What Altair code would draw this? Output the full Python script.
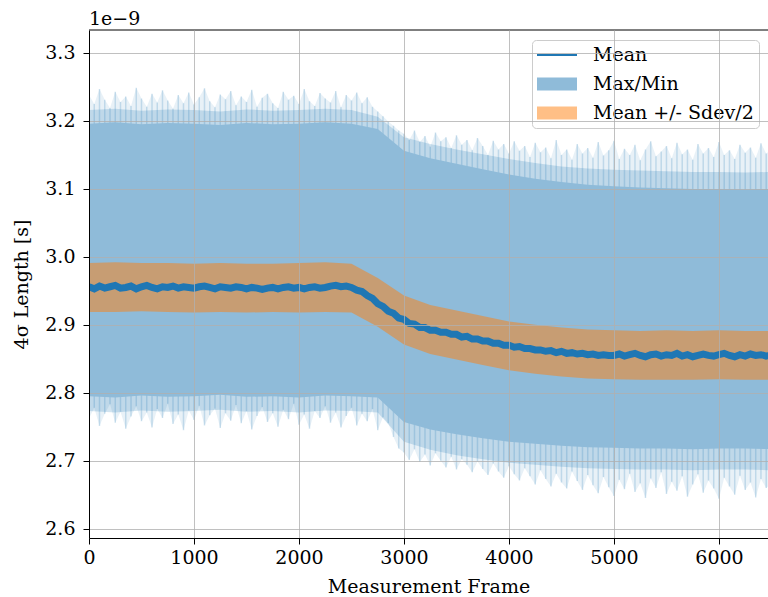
import altair as alt
import pandas as pd

FONT = "DejaVu Serif"

# sampled frame numbers (every 50 frames) for the noisy series
frames = list(range(0, 6501, 50))
# mean of the 4-sigma length, in units of 1e-9 s
mean = [
    2.956, 2.953, 2.957, 2.954, 2.956, 2.958, 2.954, 2.955, 2.957, 2.953,
    2.956, 2.958, 2.955, 2.953, 2.956, 2.955, 2.957, 2.954, 2.956, 2.955,
    2.954, 2.956, 2.957, 2.955, 2.953, 2.956, 2.955, 2.954, 2.956, 2.955,
    2.953, 2.955, 2.954, 2.952, 2.954, 2.955, 2.953, 2.955, 2.956, 2.954,
    2.955, 2.953, 2.955, 2.956, 2.954, 2.955, 2.957, 2.958, 2.956, 2.957,
    2.955, 2.951, 2.949, 2.943, 2.939, 2.931, 2.927, 2.920, 2.917, 2.910,
    2.908, 2.902, 2.901, 2.896, 2.896, 2.892, 2.892, 2.889, 2.889, 2.886,
    2.886, 2.882, 2.883, 2.879, 2.879, 2.876, 2.876, 2.873, 2.873, 2.870,
    2.870, 2.867, 2.868, 2.865, 2.865, 2.863, 2.863, 2.861, 2.862, 2.859,
    2.861, 2.858, 2.859, 2.857, 2.858, 2.856, 2.857, 2.855, 2.856, 2.855,
    2.855, 2.857, 2.854, 2.856, 2.858, 2.855, 2.853, 2.856, 2.857, 2.854,
    2.856, 2.855, 2.858, 2.854, 2.856, 2.853, 2.855, 2.857, 2.855, 2.854,
    2.856, 2.858, 2.855, 2.853, 2.856, 2.854, 2.857, 2.855, 2.856, 2.854,
    2.855,
]
# spiky extremes of the max / min envelope
max_peak = [
    3.238, 3.225, 3.247, 3.231, 3.219, 3.243, 3.228, 3.236, 3.222, 3.249,
    3.233, 3.221, 3.240, 3.227, 3.245, 3.230, 3.218, 3.238, 3.226, 3.242,
    3.224, 3.235, 3.248, 3.229, 3.220, 3.239, 3.232, 3.244, 3.223, 3.236,
    3.228, 3.246, 3.221, 3.234, 3.240, 3.226, 3.219, 3.243, 3.231, 3.237,
    3.225, 3.247, 3.229, 3.222, 3.241, 3.233, 3.227, 3.244, 3.220, 3.238,
    3.230, 3.242, 3.226, 3.235, 3.221,
    3.214, 3.207, 3.199, 3.193, 3.186,
    3.181, 3.172, 3.186, 3.169, 3.178, 3.162, 3.183, 3.170, 3.176, 3.160,
    3.179, 3.165, 3.172, 3.157, 3.175, 3.163, 3.150, 3.171, 3.158, 3.166,
    3.152, 3.170, 3.156, 3.163, 3.147, 3.168, 3.154, 3.161, 3.145, 3.172,
    3.150, 3.158, 3.143, 3.166, 3.152, 3.160, 3.146, 3.169, 3.149, 3.157,
    3.171, 3.144, 3.159, 3.150, 3.165, 3.142, 3.158, 3.170, 3.148, 3.155,
    3.163, 3.145, 3.168, 3.151, 3.158, 3.143, 3.166, 3.152, 3.160, 3.147,
    3.169, 3.150, 3.157, 3.144, 3.165, 3.153, 3.161, 3.146, 3.167, 3.152,
    3.158,
]
min_peak = [
    2.762, 2.778, 2.751, 2.769, 2.783, 2.756, 2.772, 2.747, 2.765, 2.780,
    2.758, 2.771, 2.749, 2.776, 2.763, 2.784, 2.754, 2.768, 2.745, 2.774,
    2.760, 2.781, 2.752, 2.767, 2.777, 2.748, 2.770, 2.759, 2.782, 2.755,
    2.773, 2.746, 2.766, 2.779, 2.757, 2.770, 2.750, 2.775, 2.761, 2.784,
    2.753, 2.768, 2.747, 2.773, 2.763, 2.780, 2.756, 2.771, 2.749, 2.766,
    2.778, 2.752, 2.769, 2.758, 2.776, 2.745, 2.764, 2.755,
    2.735, 2.718, 2.712, 2.701, 2.717, 2.698, 2.709, 2.693, 2.711, 2.700,
    2.690, 2.706, 2.687, 2.702, 2.694, 2.683, 2.699, 2.688, 2.679, 2.696,
    2.684, 2.675, 2.692, 2.680, 2.671, 2.689, 2.677, 2.665, 2.686, 2.673,
    2.662, 2.681, 2.668, 2.659, 2.684, 2.670, 2.657, 2.679, 2.664, 2.652,
    2.676, 2.661, 2.648, 2.672, 2.658, 2.681, 2.654, 2.667, 2.645, 2.674,
    2.660, 2.683, 2.651, 2.669, 2.656, 2.677, 2.647, 2.665, 2.680, 2.653,
    2.671, 2.659, 2.644, 2.675, 2.662, 2.650, 2.678, 2.657, 2.668, 2.646,
    2.673, 2.660, 2.666,
]

# smoother envelope values, every 250 frames
env_frames = list(range(0, 6501, 250))
max_typ = [3.196, 3.198, 3.195, 3.197, 3.196, 3.194, 3.197, 3.195, 3.196, 3.198,
           3.196, 3.188, 3.156, 3.145, 3.137, 3.129, 3.121, 3.115, 3.110, 3.106,
           3.104, 3.102, 3.101, 3.100, 3.100, 3.099, 3.100]
min_typ = [2.795, 2.793, 2.796, 2.794, 2.795, 2.797, 2.794, 2.795, 2.793, 2.796,
           2.795, 2.793, 2.757, 2.746, 2.739, 2.733, 2.728, 2.725, 2.722, 2.720,
           2.719, 2.718, 2.718, 2.717, 2.718, 2.718, 2.717]
max_dense = [3.216, 3.218, 3.215, 3.217, 3.216, 3.214, 3.217, 3.215, 3.216, 3.218,
             3.216, 3.206, 3.176, 3.166, 3.158, 3.151, 3.144, 3.138, 3.133, 3.130,
             3.128, 3.127, 3.126, 3.125, 3.125, 3.124, 3.125]
min_dense = [2.773, 2.771, 2.774, 2.772, 2.773, 2.775, 2.772, 2.773, 2.771, 2.774,
             2.773, 2.771, 2.728, 2.716, 2.708, 2.702, 2.697, 2.694, 2.691, 2.689,
             2.688, 2.687, 2.687, 2.686, 2.687, 2.687, 2.686]
sd_upper = [2.991, 2.992, 2.991, 2.991, 2.990, 2.991, 2.990, 2.990, 2.991, 2.992,
            2.990, 2.969, 2.943, 2.929, 2.921, 2.913, 2.905, 2.900, 2.896, 2.893,
            2.892, 2.891, 2.892, 2.891, 2.892, 2.891, 2.891]
sd_lower = [2.919, 2.919, 2.920, 2.919, 2.918, 2.919, 2.918, 2.919, 2.918, 2.919,
            2.918, 2.897, 2.871, 2.857, 2.849, 2.841, 2.833, 2.828, 2.824, 2.821,
            2.820, 2.819, 2.819, 2.819, 2.820, 2.819, 2.819]

series_names = ["Mean", "Max/Min", "Mean +/- Sdev/2"]
legend_colors = ["#1f77b4", "#8fbbd9", "#ffbf86"]
legend_shapes = ["M-1,-0.1H3V0.1H-1Z", "M-1,-0.66H3V0.66H-1Z", "M-1,-0.66H3V0.66H-1Z"]

x_ticks = [0, 1000, 2000, 3000, 4000, 5000, 6000]
y_ticks = [2.6, 2.7, 2.8, 2.9, 3.0, 3.1, 3.2, 3.3]
XDOM = [0, 6467]
YDOM = [2.5863, 3.3338]

assert len(frames) == len(mean) == len(max_peak) == len(min_peak)
assert len(env_frames) == len(max_typ) == len(min_typ) == len(sd_upper) == len(sd_lower)
assert len(env_frames) == len(max_dense) == len(min_dense)

fine = pd.DataFrame({"frame": frames, "mean": mean, "max_peak": max_peak, "min_peak": min_peak})
env = pd.DataFrame({"frame": env_frames, "max_typ": max_typ, "min_typ": min_typ,
                    "max_dense": max_dense, "min_dense": min_dense,
                    "sd_upper": sd_upper, "sd_lower": sd_lower})
leg = pd.DataFrame({"series": series_names, "frame": [100, 100, 100], "val": [0.0, 0.0, 0.0]})

xscale = alt.Scale(domain=XDOM, nice=False, zero=False)
yscale = alt.Scale(domain=YDOM, nice=False, zero=False)

FS = 19
common_axis = dict(grid=True, gridColor="#b0b0b0", gridWidth=0.8, domainColor="#000000",
                   domainWidth=1, tickColor="#000000", tickSize=6, tickWidth=1,
                   labelFont=FONT, labelFontSize=FS, labelColor="#000000",
                   titleFont=FONT, titleFontSize=FS, titleFontWeight="normal",
                   titleColor="#000000", labelFlush=False, labelOverlap=False, zindex=1)
xaxis = alt.Axis(values=x_ticks, format="d", title="Measurement Frame", labelPadding=4,
                 titlePadding=10, **common_axis)
yaxis = alt.Axis(values=y_ticks, format=".1f", title="4σ Length [s]", labelPadding=8,
                 titlePadding=13, **common_axis)


def X(field):
    return alt.X(f"{field}:Q", scale=xscale, axis=xaxis)


def Y(field):
    return alt.Y(f"{field}:Q", scale=yscale, axis=yaxis)


# faint haze reaching the extreme values
fuzz = alt.Chart(fine).mark_area(color="#1f77b4", opacity=0.10, clip=True).encode(
    x=X("frame"), y=Y("max_peak"), y2="min_peak")
# denser haze just outside the solid band
dense = alt.Chart(env).mark_area(color="#1f77b4", opacity=0.2, clip=True).encode(
    x=X("frame"), y=Y("max_dense"), y2="min_dense")
# individual extreme spikes
spikes = alt.Chart(fine).mark_rule(color="#1f77b4", opacity=0.2, strokeWidth=1.5, clip=True).encode(
    x=X("frame"), y=Y("max_peak"), y2="min_peak")
# dense core of the max/min band (alpha 0.5 blue on white)
core = alt.Chart(env).mark_area(color="#8fbbd9", opacity=1, clip=True).encode(
    x=X("frame"), y=Y("max_typ"), y2="min_typ")
sd = alt.Chart(env).mark_area(color="#ff7f0e", opacity=0.5, clip=True).encode(
    x=X("frame"), y=Y("sd_upper"), y2="sd_lower")
line = alt.Chart(fine).mark_line(color="#1f77b4", strokeWidth=7, clip=True).encode(
    x=X("frame"), y=Y("mean"))
topline = alt.Chart(pd.DataFrame({"a": [0]})).mark_rule(color="#000000", strokeWidth=1).encode(
    x=alt.datum(XDOM[0], scale=xscale), x2=alt.datum(XDOM[1]), y=alt.datum(YDOM[1], scale=yscale))

legend = alt.Legend(title=None, orient="none", legendX=443, legendY=10,
                    fillColor="rgba(255,255,255,0.8)", strokeColor="#cccccc",
                    cornerRadius=4, padding=5, labelFont=FONT, labelFontSize=FS,
                    labelColor="#000000", labelLimit=400, symbolSize=400, symbolStrokeWidth=0,
                    symbolOpacity=1, labelOffset=36, rowPadding=9)
dummy = alt.Chart(leg).mark_point(filled=True, opacity=1, clip=True).encode(
    x=X("frame"), y=Y("val"),
    color=alt.Color("series:N", scale=alt.Scale(domain=series_names, range=legend_colors),
                    legend=legend, sort=series_names),
    shape=alt.Shape("series:N", scale=alt.Scale(domain=series_names, range=legend_shapes),
                    legend=legend, sort=series_names),
)

chart = alt.layer(fuzz, dense, spikes, core, sd, line, topline, dummy).properties(
    width=679, height=508, autosize="none",
    padding={"left": 89, "top": 30, "right": 0, "bottom": 59},
    title=alt.TitleParams(text="1e−9", anchor="start", frame="group", font=FONT, fontSize=FS,
                          fontWeight="normal", color="#000000", baseline="alphabetic",
                          offset=7, dy=21),
).configure_view(stroke=None)

chart.save("out.html", embed_options={"renderer": "svg", "actions": False})
